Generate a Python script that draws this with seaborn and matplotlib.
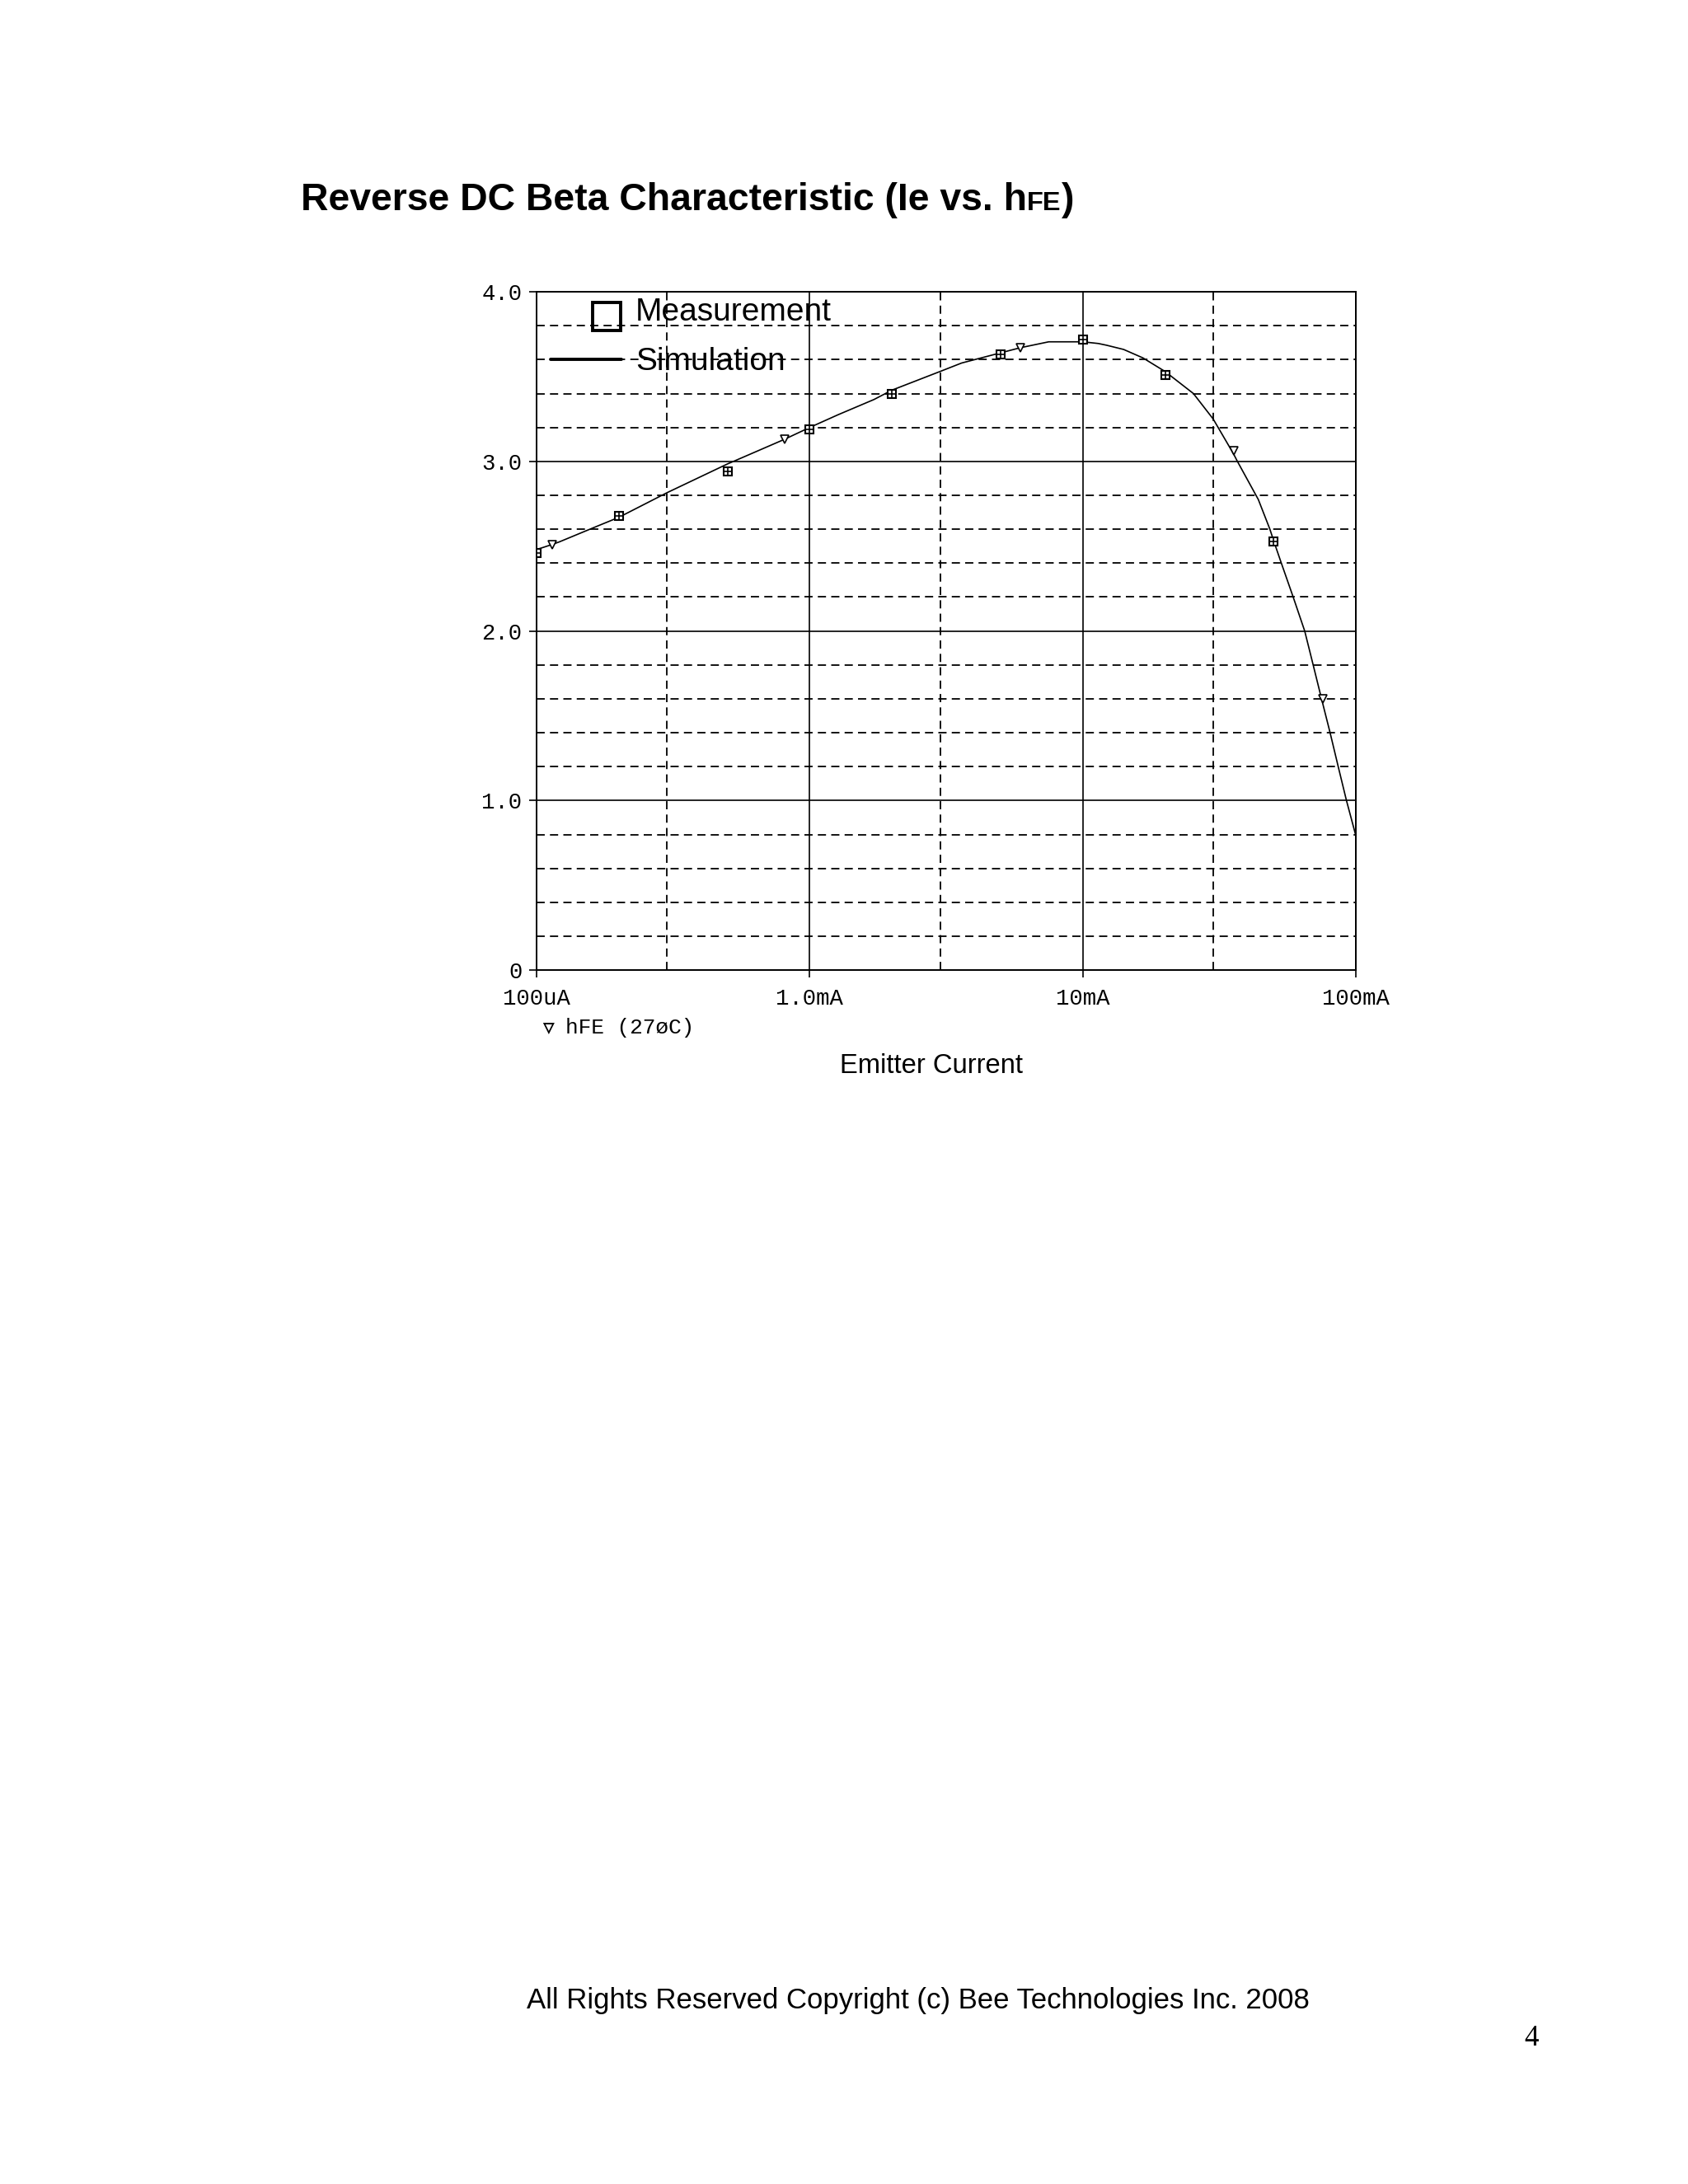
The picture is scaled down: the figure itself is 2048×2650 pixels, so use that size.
import matplotlib
matplotlib.use("Agg")
import matplotlib.pyplot as plt
from matplotlib import font_manager
from matplotlib.lines import Line2D
from matplotlib.legend_handler import HandlerLine2D
from matplotlib.ticker import FixedLocator, FixedFormatter, NullFormatter
import pandas as pd
import seaborn as sns

# simulation trace (emitter current in A, hFE)
sim_current = [1.00e-4, 1.14e-4, 1.21e-4, 1.65e-4, 2.0e-4, 3.0e-4, 5.0e-4, 5.26e-4,
               8.08e-4, 1.0e-3, 1.27e-3, 1.72e-3, 2.0e-3, 3.0e-3, 3.6e-3, 5.0e-3,
               5.9e-3, 7.5e-3, 1.0e-2, 1.14e-2, 1.22e-2, 1.41e-2, 1.66e-2, 2.0e-2,
               2.54e-2, 3.0e-2, 3.56e-2, 3.68e-2, 4.39e-2, 4.84e-2, 5.0e-2, 5.33e-2,
               5.89e-2, 6.49e-2, 6.97e-2, 7.48e-2, 8.04e-2, 8.61e-2, 9.23e-2, 1.0e-1]
sim_hfe = [2.48, 2.51, 2.525, 2.615, 2.67, 2.815, 2.985, 3.0,
           3.13, 3.20, 3.275, 3.365, 3.42, 3.53, 3.58, 3.64,
           3.67, 3.705, 3.705, 3.695, 3.685, 3.66, 3.61, 3.53,
           3.40, 3.25, 3.045, 3.0, 2.775, 2.60, 2.53, 2.40,
           2.20, 2.00, 1.80, 1.60, 1.40, 1.20, 1.00, 0.79]

# PSpice trace markers (small triangles)
trace_mark_current = [1.14e-4, 8.08e-4, 5.9e-3, 3.56e-2, 7.55e-2]
trace_mark_hfe = [2.51, 3.13, 3.67, 3.06, 1.60]

# measured points
meas_current = [1e-4, 2e-4, 5e-4, 1e-3, 2e-3, 5e-3, 1e-2, 2e-2, 5e-2]
meas_hfe = [2.46, 2.68, 2.94, 3.19, 3.40, 3.63, 3.72, 3.51, 2.53]

x_ticks = [1e-4, 1e-3, 1e-2, 1e-1]
x_labels = ["100uA", "1.0mA", "10mA", "100mA"]
x_minor = [3e-4, 3e-3, 3e-2]
y_ticks = [0, 1, 2, 3, 4]
y_labels = ["0", "1.0", "2.0", "3.0", "4.0"]
y_minor = [0.2, 0.4, 0.6, 0.8, 1.2, 1.4, 1.6, 1.8, 2.2, 2.4, 2.6, 2.8,
           3.2, 3.4, 3.6, 3.8]


class RightMarkerHandler(HandlerLine2D):
    # single marker near the right end of the handle box, a bit low
    def create_artists(self, legend, orig_handle, xdescent, ydescent,
                       width, height, fontsize, trans):
        artists = super().create_artists(legend, orig_handle, xdescent,
                                         ydescent, width, height, fontsize,
                                         trans)
        x = -xdescent + width - self._marker_pad * fontsize
        y = (height - ydescent) / 2 - 3.0
        for a in artists:
            a.set_markevery(None)
            a.set_data([x], [y])
        return artists


sns.set_style("ticks")
plt.rcParams["font.family"] = ["Liberation Sans", "DejaVu Sans"]
plt.rcParams["text.color"] = "black"
plt.rcParams["axes.labelcolor"] = "black"
plt.rcParams["xtick.color"] = "black"
plt.rcParams["ytick.color"] = "black"
mono = ["Liberation Mono", "DejaVu Sans Mono"]

# title is in a narrow bold face; fall back to regular width if missing
names = {f.name for f in font_manager.fontManager.ttflist}
if "Liberation Sans Narrow" in names:
    title_family, title_size = ["Liberation Sans Narrow", "DejaVu Sans"], 20.4
else:
    title_family, title_size = ["Liberation Sans", "DejaVu Sans"], 16.7

fig = plt.figure(figsize=(10.24, 13.25), dpi=200)
ax = fig.add_axes([0.3179, 0.5558, 0.4854, 0.3106])
ax.set_xscale("log")

sim = pd.DataFrame({"current": sim_current, "hfe": sim_hfe})
sns.lineplot(data=sim, x="current", y="hfe", color="black", linewidth=0.6,
             ax=ax, zorder=3)

ax.plot(trace_mark_current, trace_mark_hfe, ls="none", marker="v", ms=3.4,
        mfc="white", mec="black", mew=0.6, zorder=4)
ax.plot(meas_current, meas_hfe, ls="none", marker="s", ms=3.8,
        mfc="white", mec="black", mew=0.75, zorder=5)
ax.plot(meas_current, meas_hfe, ls="none", marker="+", ms=3.8,
        color="black", mew=0.6, zorder=6)

ax.set_xlim(1e-4, 1e-1)
ax.set_ylim(0, 4)
ax.xaxis.set_major_locator(FixedLocator(x_ticks))
ax.xaxis.set_major_formatter(FixedFormatter(x_labels))
ax.xaxis.set_minor_locator(FixedLocator(x_minor))
ax.xaxis.set_minor_formatter(NullFormatter())
ax.set_yticks(y_ticks, y_labels)
ax.set_yticks(y_minor, minor=True)

ax.set_axisbelow(True)
ax.grid(which="major", color="black", lw=0.6, ls="-")
ax.grid(which="minor", color="black", lw=0.65, ls=(0, (5.5, 3.5)))
ax.tick_params(which="minor", length=0)
ax.tick_params(which="major", direction="out", length=3.3, width=0.6,
               color="black", labelsize=9.8, labelcolor="black")
ax.tick_params(axis="x", pad=4.5)
ax.tick_params(axis="y", pad=3)
for lbl in ax.get_xticklabels() + ax.get_yticklabels():
    lbl.set_family(mono)
for sp in ax.spines.values():
    sp.set_color("black")
    sp.set_linewidth(0.7)

ax.set_ylabel("")
ax.set_xlabel("Emitter Current", fontsize=11.8, color="black")
ax.xaxis.set_label_coords(0.4819, -0.141)
ax.xaxis.label.set_va("center")

meas_handle = Line2D([], [], ls="none", marker="s", ms=12,
                     mfc="none", mec="black", mew=1.4)
sim_handle = Line2D([], [], color="black", lw=1.4)
ax.legend([meas_handle, sim_handle], ["Measurement", "Simulation"],
          handler_map={meas_handle: RightMarkerHandler(marker_pad=0.45)},
          loc="upper left", bbox_to_anchor=(0.017, 0.9915), frameon=False,
          fontsize=14, handlelength=2.2, handletextpad=0.45,
          labelspacing=0.62, borderpad=0, borderaxespad=0)

# trace name under the axis, PSpice style
fig.text(0.3195, 0.5296, "\u25bf", fontsize=13, family=mono,
         va="center", ha="left")
fig.text(0.3350, 0.5294, "hFE (27\u00f8C)", fontsize=9.4,
         family=mono, va="center", ha="left")

# title with small "FE"
renderer = fig.canvas.get_renderer()
base_y = 0.9038
t1 = fig.text(0.1782, base_y, "Reverse DC Beta Characteristic (Ie vs. h",
              fontsize=title_size, fontweight="bold", family=title_family,
              va="baseline")
x2 = t1.get_window_extent(renderer).x1 / fig.bbox.width
t2 = fig.text(x2, base_y, "FE", fontsize=title_size * 0.7, fontweight="bold",
              family=title_family, va="baseline")
x3 = t2.get_window_extent(renderer).x1 / fig.bbox.width
fig.text(x3, base_y, ")", fontsize=title_size, fontweight="bold",
         family=title_family, va="baseline")

fig.text(0.5437, 0.0838,
         "All Rights Reserved Copyright (c) Bee Technologies Inc. 2008",
         fontsize=12.5, ha="center", va="center")
fig.text(0.9072, 0.0665, "4", fontsize=12.6, family=["Liberation Serif"],
         ha="center", va="center")

fig.savefig("out.png", dpi=200)
